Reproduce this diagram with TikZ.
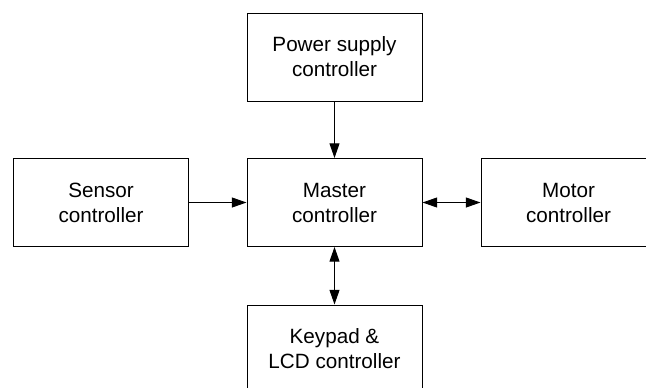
\documentclass[tikz,border=0pt]{standalone}
\usepackage{fontspec}
\setmainfont{Liberation Sans}
\usetikzlibrary{arrows.meta}
\begin{document}
\begin{tikzpicture}[x=0.75pt,y=-0.75pt,
  blk/.style={draw, line width=0.75pt, minimum width=131.25pt, minimum height=66pt, inner sep=0pt, align=center, font=\fontsize{15.5}{18.75}\selectfont},
  tip/.tip={Triangle[length=11pt,width=7.5pt]},
  conn/.style={line width=0.75pt, -tip},
  biconn/.style={line width=0.75pt, tip-tip}]
\clip (0,0) rectangle (646,387);
\node[blk] (power) at (334.5,57) {Power supply\\controller};
\node[blk] (master) at (334.5,202.5) {Master\\controller};
\node[blk] (sensor) at (101,202.5) {Sensor\\controller};
\node[blk] (motor) at (568.5,202.5) {Motor\\controller};
\node[blk] (keypad) at (334.5,349) {Keypad \&\\LCD controller};
\draw[conn] (power) -- (master);
\draw[conn] (sensor) -- (master);
\draw[biconn] (master) -- (motor);
\draw[biconn] (master) -- (keypad);
\end{tikzpicture}
\end{document}
